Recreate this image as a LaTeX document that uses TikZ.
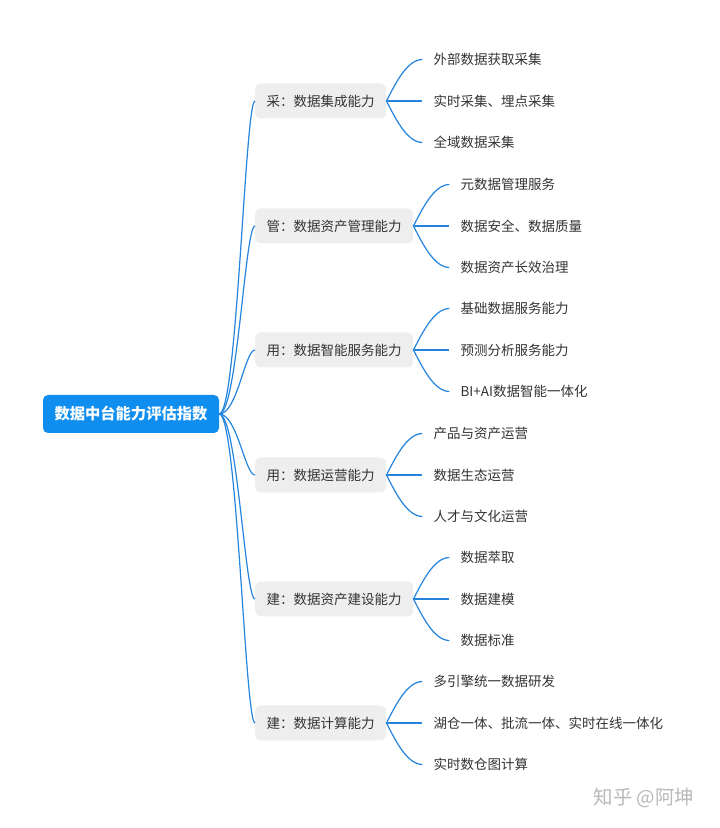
\documentclass[tikz,border=0pt]{standalone}
\usepackage{fontspec}
\setmainfont{Noto Sans CJK SC}
\usepackage{xcolor}
\usetikzlibrary{positioning}

\definecolor{rootblue}{RGB}{16,142,240}
\definecolor{linkblue}{RGB}{36,132,222}
\definecolor{catgray}{RGB}{238,238,238}
\definecolor{txtgray}{RGB}{51,51,51}

\begin{document}
\begin{tikzpicture}[
    x=1pt, y=1pt,
    every node/.style={font=\fontsize{13.5pt}{16pt}\selectfont, text=txtgray},
    rootbox/.style={fill=rootblue, rounded corners=5pt, minimum width=176pt, minimum height=38pt,
        inner xsep=4pt, text=white, font=\fontsize{15.3pt}{18pt}\selectfont\bfseries},
    cat/.style={fill=catgray, rounded corners=6pt, minimum height=35pt, inner xsep=11.5pt, anchor=west},
    leaf/.style={inner xsep=11pt, inner ysep=2pt},
    link/.style={draw=linkblue, line width=1.2pt},
]
\useasboundingbox (0,0) rectangle (720,828);

% === ROOT ===
\node[rootbox] (root) at (131,414) {数据中台能力评估指数};

% === CATEGORIES ===
\node[cat] (c1) at (255,727) {采：数据集成能力};
\node[cat] (c2) at (255,602) {管：数据资产管理能力};
\node[cat] (c3) at (255,478) {用：数据智能服务能力};
\node[cat] (c4) at (255,353) {用：数据运营能力};
\node[cat] (c5) at (255,229) {建：数据资产建设能力};
\node[cat] (c6) at (255,105) {建：数据计算能力};

% === LEAVES ===
\node[leaf, right=36pt of c1, yshift=41.5pt] (l11) {外部数据获取采集};
\node[leaf, right=36pt of c1] (l12) {实时采集、埋点采集};
\node[leaf, right=36pt of c1, yshift=-41.5pt] (l13) {全域数据采集};

\node[leaf, right=36pt of c2, yshift=41.5pt] (l21) {元数据管理服务};
\node[leaf, right=36pt of c2] (l22) {数据安全、数据质量};
\node[leaf, right=36pt of c2, yshift=-41.5pt] (l23) {数据资产长效治理};

\node[leaf, right=36pt of c3, yshift=41.5pt] (l31) {基础数据服务能力};
\node[leaf, right=36pt of c3] (l32) {预测分析服务能力};
\node[leaf, right=36pt of c3, yshift=-41.5pt] (l33) {BI+AI数据智能一体化};

\node[leaf, right=36pt of c4, yshift=41.5pt] (l41) {产品与资产运营};
\node[leaf, right=36pt of c4] (l42) {数据生态运营};
\node[leaf, right=36pt of c4, yshift=-41.5pt] (l43) {人才与文化运营};

\node[leaf, right=36pt of c5, yshift=41.5pt] (l51) {数据萃取};
\node[leaf, right=36pt of c5] (l52) {数据建模};
\node[leaf, right=36pt of c5, yshift=-41.5pt] (l53) {数据标准};

\node[leaf, right=36pt of c6, yshift=41.5pt] (l61) {多引擎统一数据研发};
\node[leaf, right=36pt of c6] (l62) {湖仓一体、批流一体、实时在线一体化};
\node[leaf, right=36pt of c6, yshift=-41.5pt] (l63) {实时数仓图计算};

% root to categories
\foreach \c in {c1,c2,c3,c4,c5,c6}
    \draw[link] (root.east) .. controls +(18,0) and +(-10,0) .. (\c.west);

% categories to leaves
\foreach \c in {1,...,6} {
    \draw[link] (c\c.east) .. controls +(8,15) and +(-16,0) .. (l\c1.west);
    \draw[link] (c\c.east) -- (l\c2.west);
    \draw[link] (c\c.east) .. controls +(8,-15) and +(-16,0) .. (l\c3.west);
}

% watermark
\node[font=\fontsize{19.5pt}{22pt}\selectfont, text=gray!55] (mark) at (644,30) {知乎 @阿坤};

\end{tikzpicture}
\end{document}
